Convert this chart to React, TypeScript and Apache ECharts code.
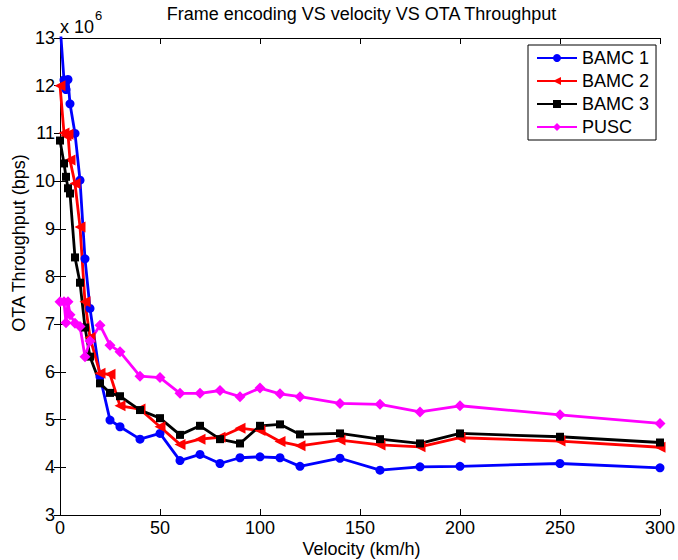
import React, { useEffect, useRef } from "react";
import * as echarts from "echarts";

// Velocity (km/h)
const velocity = [0, 2, 3, 4, 5, 7.5, 10, 12.5, 15, 20, 25, 30, 40, 50, 60, 70, 80, 90, 100, 110, 120, 140, 160, 180, 200, 250, 300];
// OTA throughput, in units of 10^6 bps
const bamc1 = [13.3, 12.12, 11.92, 12.13, 11.62, 11.0, 10.02, 8.37, 7.33, 5.9, 4.99, 4.85, 4.59, 4.71, 4.14, 4.27, 4.08, 4.2, 4.22, 4.2, 4.02, 4.19, 3.94, 4.01, 4.02, 4.08, 3.99];
const bamc2 = [12.0, 11.01, 10.95, 10.98, 10.44, 9.95, 9.04, 7.47, 6.72, 5.97, 5.95, 5.29, 5.22, 4.85, 4.48, 4.59, 4.63, 4.82, 4.77, 4.54, 4.45, 4.57, 4.47, 4.43, 4.62, 4.55, 4.42];
const bamc3 = [10.85, 10.37, 10.09, 9.85, 9.74, 8.4, 7.87, 6.93, 6.32, 5.76, 5.56, 5.49, 5.2, 5.03, 4.68, 4.87, 4.59, 4.5, 4.87, 4.9, 4.69, 4.71, 4.59, 4.5, 4.71, 4.64, 4.52];
const pusc = [7.47, 7.47, 7.03, 7.47, 7.2, 7.02, 6.95, 6.32, 6.65, 6.98, 6.56, 6.42, 5.91, 5.88, 5.55, 5.55, 5.61, 5.48, 5.66, 5.54, 5.48, 5.34, 5.32, 5.16, 5.29, 5.1, 4.92];

const seriesNames = ["BAMC 1", "BAMC 2", "BAMC 3", "PUSC"];
const seriesColors = ["#0000ff", "#ff0000", "#000000", "#ff00ff"];
const titleText = "Frame encoding VS velocity VS OTA Throughput";
const xName = "Velocity (km/h)";
const yName = "OTA Throughput (bps)";

const FONT = "'Liberation Sans', Arial, Helvetica, sans-serif";

export default function App() {
  const ref = useRef<HTMLDivElement>(null);
  useEffect(() => {
    if (!ref.current) return;
    const chart = echarts.init(ref.current, undefined, { renderer: "svg" });
    const seriesData = [bamc1, bamc2, bamc3, pusc];
    const symbols = ["circle", "triangle", "rect", "diamond"];
    const symbolSizes = [9, 11, 8, 11];
    const symbolRotates = [0, 90, 0, 0];
    const axisCommon = {
      axisLine: { show: true, lineStyle: { color: "#000", width: 1 } },
      axisTick: { show: true, inside: true, length: 6, lineStyle: { color: "#000" } },
      splitLine: { show: false },
    };
    chart.setOption({
      animation: false,
      backgroundColor: "#fff",
      textStyle: { fontFamily: FONT },
      grid: { left: 60, right: 15, top: 38, bottom: 45, containLabel: false },
      xAxis: [
        {
          type: "value", min: 0, max: 300, interval: 50, position: "bottom",
          ...axisCommon,
          axisLabel: { fontSize: 18, color: "#000", margin: 4, fontFamily: FONT },
        },
        {
          type: "value", min: 0, max: 300, interval: 50, position: "top",
          ...axisCommon,
          axisLabel: { show: false },
        },
      ],
      yAxis: [
        {
          type: "value", min: 3, max: 13, interval: 1, position: "left",
          ...axisCommon,
          axisLabel: { fontSize: 18, color: "#000", margin: 5, fontFamily: FONT },
        },
        {
          type: "value", min: 3, max: 13, interval: 1, position: "right",
          ...axisCommon,
          axisLabel: { show: false },
        },
      ],
      legend: {
        orient: "vertical",
        left: 528,
        top: 45,
        itemWidth: 40,
        itemHeight: 10,
        itemGap: 5,
        padding: [4, 7, 4, 8],
        borderColor: "#000",
        borderWidth: 1,
        backgroundColor: "#fff",
        textStyle: { fontSize: 18, color: "#000", fontFamily: FONT },
        data: seriesNames,
      },
      graphic: [
        { type: "text", x: 361.5, y: 14, style: { text: titleText, font: `18px ${FONT}`, fill: "#000", align: "center", verticalAlign: "middle" } },
        { type: "text", x: 361.5, y: 549, style: { text: xName, font: `18px ${FONT}`, fill: "#000", align: "center", verticalAlign: "middle" } },
        { type: "text", x: 19, y: 243, rotation: Math.PI / 2, style: { text: yName, font: `18px ${FONT}`, fill: "#000", align: "center", verticalAlign: "middle" } },
        { type: "text", x: 60, y: 27, style: { text: "x 10", font: `18px ${FONT}`, fill: "#000", align: "left", verticalAlign: "middle" } },
        { type: "text", x: 95, y: 15, style: { text: "6", font: `13px ${FONT}`, fill: "#000", align: "left", verticalAlign: "middle" } },
      ],
      series: seriesNames.map((name, i) => ({
        name,
        type: "line",
        xAxisIndex: 0,
        yAxisIndex: 0,
        data: velocity.map((v, j) => [v, seriesData[i][j]]),
        symbol: symbols[i],
        symbolSize: symbolSizes[i],
        symbolRotate: symbolRotates[i],
        showAllSymbol: true,
        clip: true,
        color: seriesColors[i],
        lineStyle: { color: seriesColors[i], width: 2.8 },
        itemStyle: { color: seriesColors[i] },
        emphasis: { disabled: true },
      })),
    });
    return () => chart.dispose();
  }, []);
  return <div ref={ref} style={{ position: "absolute", left: 0, top: 0, width: 678, height: 560 }} />;
}
